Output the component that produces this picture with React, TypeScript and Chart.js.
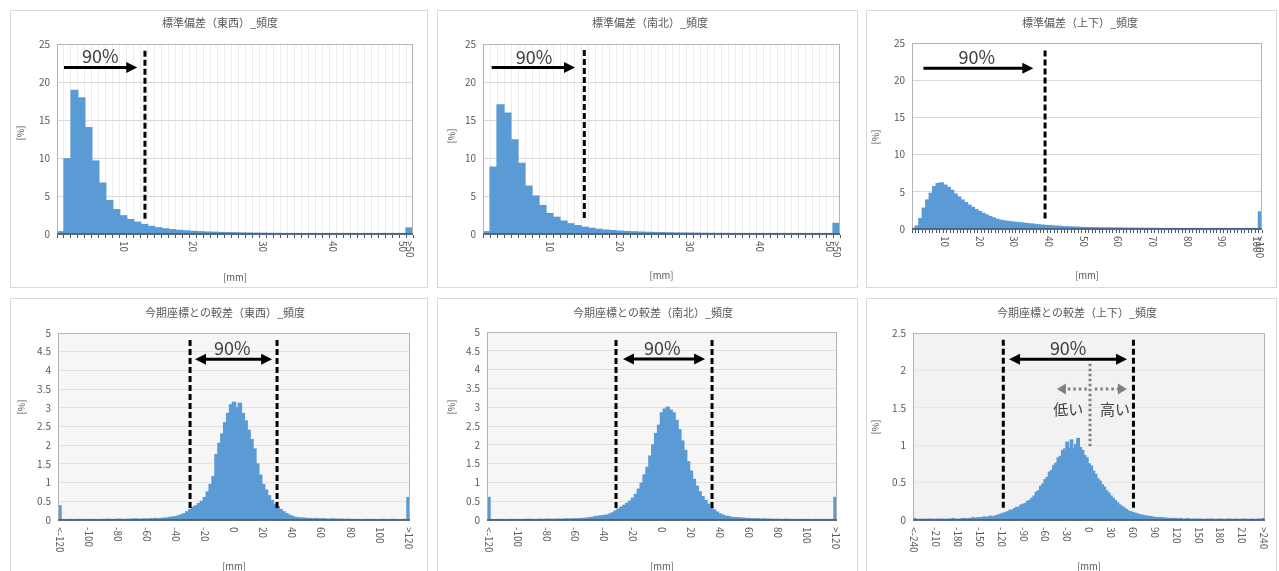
import React, { useEffect, useRef } from 'react';
import { Chart, registerables } from 'chart.js';

Chart.register(...registerables);

// ---------------- data ----------------
// 標準偏差 histograms: bins "1".."N", ">N"
const sdEwValues = [
  0.3, 9.9, 18.9, 17.9, 14.0, 9.6, 6.7, 4.4, 3.2, 2.4,
  1.9, 1.55, 1.25, 1.0, 0.82, 0.68, 0.57, 0.48, 0.41, 0.35,
  0.3, 0.26, 0.23, 0.2, 0.18, 0.16, 0.14, 0.12, 0.11, 0.1,
  0.09, 0.08, 0.07, 0.07, 0.06, 0.06, 0.05, 0.05, 0.04, 0.04,
  0.04, 0.03, 0.03, 0.03, 0.03, 0.02, 0.02, 0.02, 0.02, 0.02,
  0.8,
];
const sdNsValues = [
  0.3, 8.8, 17.0, 15.9, 12.4, 9.3, 6.3, 5.0, 3.75, 2.7,
  2.2, 1.7, 1.35, 1.1, 0.9, 0.75, 0.62, 0.52, 0.45, 0.38,
  0.33, 0.29, 0.25, 0.22, 0.2, 0.18, 0.16, 0.14, 0.13, 0.12,
  0.11, 0.1, 0.09, 0.08, 0.08, 0.07, 0.06, 0.06, 0.05, 0.05,
  0.05, 0.04, 0.04, 0.04, 0.03, 0.03, 0.03, 0.03, 0.02, 0.02,
  1.4,
];
const sdUdValues = [
  0.1, 0.4, 1.4, 2.8, 3.9, 4.8, 5.7, 6.1, 6.2, 5.9,
  5.6, 5.2, 4.7, 4.3, 3.9, 3.55, 3.2, 2.9, 2.6, 2.35,
  2.1, 1.88, 1.66, 1.5, 1.3, 1.18, 1.1, 1.03, 0.97, 0.92,
  0.87, 0.82, 0.77, 0.72, 0.67, 0.62, 0.57, 0.52, 0.48, 0.45,
  0.42, 0.39, 0.36, 0.33, 0.3, 0.28, 0.26, 0.24, 0.22, 0.2,
  0.19, 0.18, 0.17, 0.16, 0.15, 0.14, 0.13, 0.13, 0.12, 0.12,
  0.11, 0.11, 0.1, 0.1, 0.09, 0.09, 0.09, 0.08, 0.08, 0.08,
  0.07, 0.07, 0.07, 0.06, 0.06, 0.06, 0.06, 0.05, 0.05, 0.05,
  0.05, 0.05, 0.04, 0.04, 0.04, 0.04, 0.04, 0.04, 0.03, 0.03,
  0.03, 0.03, 0.03, 0.03, 0.03, 0.03, 0.02, 0.02, 0.02, 0.02,
  2.3,
];
// 今期座標との較差 (東西): "<-120", -118 ... 118, ">120" (2mm bins)
const diffEwValues = [
  0.38,
  0.01, 0.0, 0.01, 0.01, 0.0, 0.01, 0.01, 0.0, 0.01, 0.01,
  0.01, 0.01, 0.0, 0.01, 0.01, 0.01, 0.02, 0.01, 0.01, 0.02,
  0.02, 0.01, 0.02, 0.02, 0.02, 0.03, 0.02, 0.02, 0.03, 0.02,
  0.03, 0.03, 0.04, 0.03, 0.04, 0.05, 0.05, 0.07, 0.08, 0.09,
  0.11, 0.14, 0.17, 0.22, 0.28, 0.34, 0.38, 0.44, 0.5, 0.6,
  0.75, 0.95, 1.16, 1.75, 2.05, 2.3, 2.6, 2.85, 3.08, 3.15,
  3.0, 3.12, 2.85, 2.65, 2.4, 2.15, 1.9, 1.5, 1.2, 0.95,
  0.8, 0.65, 0.52, 0.42, 0.36, 0.28, 0.22, 0.17, 0.13, 0.1,
  0.07, 0.06, 0.05, 0.05, 0.04, 0.04, 0.03, 0.04, 0.03, 0.03,
  0.03, 0.02, 0.02, 0.03, 0.02, 0.02, 0.02, 0.01, 0.02, 0.01,
  0.01, 0.01, 0.01, 0.0, 0.01, 0.01, 0.01, 0.01, 0.0, 0.01,
  0.01, 0.01, 0.0, 0.01, 0.01, 0.01, 0.0, 0.01, 0.01,
  0.6,
];
// 今期座標との較差 (南北)
const diffNsValues = [
  0.6,
  0.01, 0.0, 0.01, 0.01, 0.01, 0.0, 0.01, 0.01, 0.01, 0.01,
  0.01, 0.01, 0.01, 0.02, 0.01, 0.01, 0.01, 0.02, 0.01, 0.02,
  0.02, 0.01, 0.02, 0.02, 0.02, 0.02, 0.03, 0.02, 0.03,
  0.03, 0.03, 0.04, 0.04, 0.05, 0.06, 0.07, 0.09, 0.1, 0.11, 0.12,
  0.13, 0.16, 0.19, 0.24, 0.29, 0.34, 0.39, 0.44, 0.5, 0.58,
  0.68, 0.82, 0.98, 1.2, 1.4, 1.7, 2.0, 2.3, 2.52, 2.85,
  2.95, 3.0, 2.92, 2.85, 2.65, 2.4, 2.1, 1.85, 1.55, 1.3,
  1.08, 0.9, 0.75, 0.62, 0.52, 0.42, 0.34, 0.27, 0.21, 0.16,
  0.13, 0.1, 0.09, 0.07, 0.06, 0.06, 0.05, 0.05, 0.04, 0.04,
  0.03, 0.03, 0.03, 0.02, 0.03, 0.02, 0.02, 0.02, 0.01, 0.02,
  0.01, 0.01, 0.02, 0.01, 0.01, 0.01, 0.0, 0.01, 0.01, 0.01,
  0.01, 0.0, 0.01, 0.01, 0.01, 0.0, 0.01, 0.01, 0.01,
  0.6,
];
// 今期座標との較差 (上下): "<-240", -237 ... 237, ">240" (3mm bins)
const diffUdValues = [
  0.02,
  0.01, 0.0, 0.01, 0.01, 0.0, 0.01, 0.01, 0.01, 0.0, 0.01,
  0.01, 0.01, 0.01, 0.0, 0.01, 0.01, 0.01, 0.02, 0.01, 0.01,
  0.01, 0.02, 0.02, 0.01, 0.02, 0.02, 0.03, 0.02, 0.03, 0.03,
  0.03, 0.04, 0.03, 0.04, 0.05, 0.04, 0.05, 0.06, 0.07, 0.08,
  0.09, 0.1, 0.11, 0.13, 0.13, 0.15, 0.17, 0.17, 0.2, 0.21,
  0.22, 0.25, 0.26, 0.29, 0.32, 0.37, 0.39, 0.45, 0.48, 0.54,
  0.57, 0.64, 0.66, 0.73, 0.76, 0.83, 0.85, 0.93, 0.95, 1.04,
  0.96, 1.07, 0.95, 1.01, 1.09, 0.97, 0.93, 0.86, 0.83, 0.75,
  0.72, 0.65, 0.61, 0.55, 0.52, 0.47, 0.44, 0.39, 0.36, 0.32,
  0.29, 0.26, 0.23, 0.2, 0.18, 0.16, 0.14, 0.12, 0.11, 0.1,
  0.09, 0.08, 0.07, 0.065, 0.06, 0.05, 0.05, 0.045, 0.04, 0.035,
  0.03, 0.03, 0.03, 0.025, 0.025, 0.02, 0.02, 0.02, 0.02, 0.02,
  0.01, 0.02, 0.01, 0.01, 0.02, 0.01, 0.01, 0.01, 0.01, 0.01,
  0.01, 0.01, 0.0, 0.01, 0.01, 0.01, 0.01, 0.0, 0.01, 0.01,
  0.01, 0.0, 0.01, 0.01, 0.01, 0.0, 0.01, 0.01, 0.0, 0.01,
  0.01, 0.01, 0.0, 0.01, 0.01, 0.0, 0.01, 0.01, 0.01,
  0.02,
];

const sdTicks50 = ['10', '20', '30', '40', '50', '>50'];
const sdTicks100 = ['10', '20', '30', '40', '50', '60', '70', '80', '90', '100', '>100'];
const diffTicks120 = ['<-120', '-100', '-80', '-60', '-40', '-20', '0', '20', '40', '60', '80', '100', '>120'];
const diffTicks240 = ['<-240', '-210', '-180', '-150', '-120', '-90', '-60', '-30', '0', '30', '60', '90', '120', '150', '180', '210', '>240'];

function sdCategories(n: number): string[] {
  const c: string[] = [];
  for (let i = 1; i <= n; i++) c.push(String(i));
  c.push('>' + n);
  return c;
}
function diffCategories(limit: number, step: number): string[] {
  const c: string[] = ['<-' + limit];
  for (let v = -limit + step; v < limit; v += step) c.push(String(v));
  c.push('>' + limit);
  return c;
}

// ---------------- config ----------------
type Ann =
  | { t: 'dash'; x: number; y0: number; y1: number }
  | { t: 'arrow'; x0: number; x1: number; y: number; both: boolean }
  | { t: 'text'; x: number; y: number; s: string; size: number }
  | { t: 'dot'; x: number; y0: number; y1: number }
  | { t: 'garrow'; x0: number; x1: number; y: number };

interface PanelCfg {
  title: string;
  x: number; y: number; w: number; h: number;
  area: [number, number, number, number];
  cats: string[]; values: number[]; ticks: string[];
  binStart: number; binWidth: number;
  yMax: number; yStep: number;
  plotBg: string; yGrid: string; xGrid: string | null; xTicks: boolean;
  barPct: number;
  titleX: number; titleY: number; pctX: number; pctY: number; mmDy: number;
  anns: Ann[];
}

const FONT = '"Noto Sans CJK JP", "Noto Sans", sans-serif';
const BAR = '#5b9bd5';
const TXT = '#595959';

const panels: PanelCfg[] = [
  {
    title: '標準偏差（東西）_頻度', x: 10, y: 10, w: 418, h: 278, area: [47, 34, 403, 224],
    cats: sdCategories(50), values: sdEwValues, ticks: sdTicks50, binStart: 1, binWidth: 1,
    yMax: 25, yStep: 5, plotBg: '#ffffff', yGrid: '#d9d9d9', xGrid: '#ededed', xTicks: true, barPct: 1,
    titleX: 210, titleY: 13, pctX: 10, pctY: 123, mmDy: 43,
    anns: [
      { t: 'text', x: 6.7, y: 23.4, s: '90%', size: 18 },
      { t: 'arrow', x0: 1.5, x1: 12.0, y: 21.9, both: false },
      { t: 'dash', x: 13.1, y0: 1.84, y1: 24.1 },
    ],
  },
  {
    title: '標準偏差（南北）_頻度', x: 437, y: 10, w: 421, h: 278, area: [46, 34, 403, 224],
    cats: sdCategories(50), values: sdNsValues, ticks: sdTicks50, binStart: 1, binWidth: 1,
    yMax: 25, yStep: 5, plotBg: '#ffffff', yGrid: '#d9d9d9', xGrid: '#ededed', xTicks: true, barPct: 1,
    titleX: 213, titleY: 13, pctX: 14, pctY: 126, mmDy: 41,
    anns: [
      { t: 'text', x: 7.8, y: 23.3, s: '90%', size: 18 },
      { t: 'arrow', x0: 1.74, x1: 13.64, y: 21.9, both: false },
      { t: 'dash', x: 14.97, y0: 1.93, y1: 24.2 },
    ],
  },
  {
    title: '標準偏差（上下）_頻度', x: 866, y: 10, w: 411, h: 278, area: [46, 33, 396, 219],
    cats: sdCategories(100), values: sdUdValues, ticks: sdTicks100, binStart: 1, binWidth: 1,
    yMax: 25, yStep: 5, plotBg: '#ffffff', yGrid: '#d9d9d9', xGrid: null, xTicks: true, barPct: 1.1,
    titleX: 214, titleY: 13, pctX: 9, pctY: 127, mmDy: 46,
    anns: [
      { t: 'text', x: 19.2, y: 23.1, s: '90%', size: 18 },
      { t: 'arrow', x0: 3.8, x1: 35.5, y: 21.6, both: false },
      { t: 'dash', x: 38.9, y0: 1.27, y1: 24.0 },
    ],
  },
  {
    title: '今期座標との較差（東西）_頻度', x: 10, y: 298, w: 418, h: 280, area: [48, 35, 400, 222],
    cats: diffCategories(120, 2), values: diffEwValues, ticks: diffTicks120, binStart: -120, binWidth: 2,
    yMax: 5, yStep: 0.5, plotBg: '#f6f6f6', yGrid: '#e2e2e2', xGrid: null, xTicks: false, barPct: 1.15,
    titleX: 215, titleY: 15, pctX: 11, pctY: 109, mmDy: 46,
    anns: [
      { t: 'text', x: -1.2, y: 4.59, s: '90%', size: 18 },
      { t: 'arrow', x0: -26.8, x1: 26.2, y: 4.3, both: true },
      { t: 'dash', x: -30.2, y0: 0.31, y1: 4.81 },
      { t: 'dash', x: 29.6, y0: 0.31, y1: 4.81 },
    ],
  },
  {
    title: '今期座標との較差（南北）_頻度', x: 437, y: 298, w: 421, h: 280, area: [50, 34, 400, 222],
    cats: diffCategories(120, 2), values: diffNsValues, ticks: diffTicks120, binStart: -120, binWidth: 2,
    yMax: 5, yStep: 0.5, plotBg: '#f6f6f6', yGrid: '#e2e2e2', xGrid: null, xTicks: false, barPct: 1.15,
    titleX: 216, titleY: 15, pctX: 14, pctY: 109, mmDy: 46,
    anns: [
      { t: 'text', x: 0.2, y: 4.57, s: '90%', size: 18 },
      { t: 'arrow', x0: -27, x1: 29.8, y: 4.28, both: true },
      { t: 'dash', x: -31.8, y0: 0.32, y1: 4.79 },
      { t: 'dash', x: 34.6, y0: 0.32, y1: 4.79 },
    ],
  },
  {
    title: '今期座標との較差（上下）_頻度', x: 866, y: 298, w: 411, h: 280, area: [47, 35, 399, 222],
    cats: diffCategories(240, 3), values: diffUdValues, ticks: diffTicks240, binStart: -240, binWidth: 3,
    yMax: 2.5, yStep: 0.5, plotBg: '#f2f2f2', yGrid: '#e6e6e6', xGrid: null, xTicks: false, barPct: 1.2,
    titleX: 211, titleY: 15, pctX: 9, pctY: 129, mmDy: 46,
    anns: [
      { t: 'text', x: -28.6, y: 2.3, s: '90%', size: 18 },
      { t: 'arrow', x0: -109.8, x1: 52.2, y: 2.15, both: true },
      { t: 'dash', x: -117.6, y0: 0.16, y1: 2.41 },
      { t: 'dash', x: 61, y0: 0.16, y1: 2.41 },
      { t: 'dot', x: 1.4, y0: 0.98, y1: 2.09 },
      { t: 'garrow', x0: -3, x1: -44, y: 1.75 },
      { t: 'garrow', x0: 8, x1: 52, y: 1.75 },
      { t: 'text', x: -28.6, y: 1.48, s: '低い', size: 15 },
      { t: 'text', x: 35.7, y: 1.48, s: '高い', size: 15 },
    ],
  },
];

// ---------------- drawing helpers ----------------
function head(ctx: CanvasRenderingContext2D, tip: number, y: number, dir: number, len: number, half: number) {
  ctx.beginPath();
  ctx.moveTo(tip, y);
  ctx.lineTo(tip - dir * len, y - half);
  ctx.lineTo(tip - dir * len, y + half);
  ctx.closePath();
  ctx.fill();
}

function makePlugin(cfg: PanelCfg) {
  return {
    id: 'panelDecor',
    beforeDraw(chart: any) {
      const ctx: CanvasRenderingContext2D = chart.ctx;
      const a = chart.chartArea;
      ctx.save();
      ctx.fillStyle = '#ffffff';
      ctx.fillRect(0, 0, chart.width, chart.height);
      ctx.strokeStyle = '#d9d9d9';
      ctx.lineWidth = 1;
      ctx.strokeRect(0.5, 0.5, chart.width - 1, chart.height - 1);
      ctx.fillStyle = cfg.plotBg;
      ctx.fillRect(a.left, a.top, a.right - a.left, a.bottom - a.top);
      ctx.restore();
    },
    afterDatasetsDraw(chart: any) {
      const ctx: CanvasRenderingContext2D = chart.ctx;
      const a = chart.chartArea;
      const xs = chart.scales.x;
      const ys = chart.scales.y;
      const X = (mm: number) => xs.getPixelForValue((mm - cfg.binStart) / cfg.binWidth);
      const Y = (v: number) => ys.getPixelForValue(v);
      ctx.save();
      // clean the edges of the plot (overlapping bars)
      ctx.fillStyle = '#ffffff';
      ctx.fillRect(a.left - 4, a.top, 4, a.bottom - a.top + 1);
      ctx.fillRect(a.right, a.top, 4, a.bottom - a.top + 1);
      // plot frame
      ctx.strokeStyle = '#b4b4b4';
      ctx.lineWidth = 1;
      ctx.strokeRect(Math.round(a.left) + 0.5, Math.round(a.top) + 0.5, Math.round(a.right - a.left) - 1, Math.round(a.bottom - a.top));
      // x axis line
      ctx.strokeStyle = '#44546a';
      ctx.lineWidth = 1.5;
      ctx.beginPath();
      ctx.moveTo(a.left, a.bottom);
      ctx.lineTo(a.right, a.bottom);
      ctx.stroke();

      for (const an of cfg.anns) {
        ctx.setLineDash([]);
        if (an.t === 'dash') {
          ctx.strokeStyle = '#000';
          ctx.lineWidth = 3;
          ctx.setLineDash([6, 3]);
          ctx.beginPath();
          ctx.moveTo(X(an.x), Y(an.y1));
          ctx.lineTo(X(an.x), Y(an.y0));
          ctx.stroke();
        } else if (an.t === 'arrow') {
          const x0 = X(an.x0), x1 = X(an.x1), y = Y(an.y);
          const len = 11, half = 5.5;
          ctx.strokeStyle = '#000';
          ctx.fillStyle = '#000';
          ctx.lineWidth = 3;
          ctx.beginPath();
          ctx.moveTo(an.both ? x0 + len - 2 : x0, y);
          ctx.lineTo(x1 - len + 2, y);
          ctx.stroke();
          head(ctx, x1, y, 1, len, half);
          if (an.both) head(ctx, x0, y, -1, len, half);
        } else if (an.t === 'text') {
          ctx.fillStyle = '#404040';
          ctx.font = `${an.size}px ${FONT}`;
          ctx.textAlign = 'center';
          ctx.textBaseline = 'middle';
          ctx.fillText(an.s, X(an.x), Y(an.y));
        } else if (an.t === 'dot') {
          ctx.strokeStyle = '#808080';
          ctx.lineWidth = 3;
          ctx.setLineDash([2.5, 2.5]);
          ctx.beginPath();
          ctx.moveTo(X(an.x), Y(an.y1));
          ctx.lineTo(X(an.x), Y(an.y0));
          ctx.stroke();
        } else if (an.t === 'garrow') {
          const x0 = X(an.x0), x1 = X(an.x1), y = Y(an.y);
          const dir = x1 > x0 ? 1 : -1;
          const len = 9, half = 5.5;
          ctx.strokeStyle = '#808080';
          ctx.fillStyle = '#808080';
          ctx.lineWidth = 3;
          ctx.setLineDash([2.5, 3]);
          ctx.beginPath();
          ctx.moveTo(x0, y);
          ctx.lineTo(x1 - dir * (len - 1), y);
          ctx.stroke();
          ctx.setLineDash([]);
          head(ctx, x1, y, dir, len, half);
        }
      }
      ctx.restore();
    },
    afterDraw(chart: any) {
      const ctx: CanvasRenderingContext2D = chart.ctx;
      const a = chart.chartArea;
      const xs = chart.scales.x;
      ctx.save();
      // title
      ctx.fillStyle = TXT;
      ctx.font = `11px ${FONT}`;
      ctx.textAlign = 'center';
      ctx.textBaseline = 'middle';
      ctx.fillText(cfg.title, cfg.titleX, cfg.titleY);
      // x tick labels (rotated, reading downward)
      ctx.font = `10px ${FONT}`;
      for (const lab of cfg.ticks) {
        const idx = cfg.cats.indexOf(lab);
        if (idx < 0) continue;
        const x = xs.getPixelForValue(idx);
        ctx.save();
        ctx.translate(x, a.bottom + 7);
        ctx.rotate(Math.PI / 2);
        ctx.textAlign = 'left';
        ctx.textBaseline = 'middle';
        ctx.fillText(lab, 0, 0);
        ctx.restore();
      }
      // axis titles
      ctx.font = `9.5px ${FONT}`;
      ctx.textAlign = 'center';
      ctx.textBaseline = 'middle';
      ctx.fillText('[mm]', (a.left + a.right) / 2, a.bottom + cfg.mmDy);
      ctx.save();
      ctx.translate(cfg.pctX, cfg.pctY);
      ctx.rotate(-Math.PI / 2);
      ctx.fillText('[%]', 0, 0);
      ctx.restore();
      ctx.restore();
    },
  };
}

function Panel({ cfg }: { cfg: PanelCfg }) {
  const ref = useRef<HTMLCanvasElement>(null);
  useEffect(() => {
    const [l, t, r, b] = cfg.area;
    const yW = 30;
    const xH = 4;
    const chart = new Chart(ref.current as HTMLCanvasElement, {
      type: 'bar',
      data: {
        labels: cfg.cats,
        datasets: [
          {
            data: cfg.values,
            backgroundColor: BAR,
            borderWidth: 0,
            barPercentage: cfg.barPct,
            categoryPercentage: 1,
            inflateAmount: 0.6,
          },
        ],
      },
      options: {
        responsive: false,
        animation: false,
        devicePixelRatio: 1,
        events: [],
        layout: { padding: { left: l - yW, top: t, right: cfg.w - r, bottom: cfg.h - b - xH } },
        plugins: { legend: { display: false }, title: { display: false }, tooltip: { enabled: false } },
        scales: {
          x: {
            type: 'category',
            offset: true,
            ticks: { display: false },
            grid: {
              display: cfg.xGrid !== null || cfg.xTicks,
              drawOnChartArea: cfg.xGrid !== null,
              color: cfg.xGrid ?? 'rgba(0,0,0,0)',
              drawTicks: cfg.xTicks,
              tickLength: 4,
              tickColor: '#44546a',
              offset: true,
            },
            border: { display: false },
            afterFit: (s: any) => { s.height = xH; },
          },
          y: {
            min: 0,
            max: cfg.yMax,
            ticks: {
              stepSize: cfg.yStep,
              color: TXT,
              font: { size: 10, family: FONT },
              padding: 7,
              callback: (v: any) => String(Math.round(Number(v) * 100) / 100),
            },
            grid: { color: cfg.yGrid, drawTicks: false },
            border: { display: false },
            afterFit: (s: any) => { s.width = yW; },
          },
        },
      } as any,
      plugins: [makePlugin(cfg) as any],
    });
    return () => chart.destroy();
  }, [cfg]);
  return (
    <canvas
      ref={ref}
      width={cfg.w}
      height={cfg.h}
      style={{ position: 'absolute', left: cfg.x, top: cfg.y, width: cfg.w, height: cfg.h }}
    />
  );
}

export default function App() {
  return (
    <div style={{ position: 'fixed', left: 0, top: 0, width: 1279, height: 571, overflow: 'hidden', background: '#ffffff' }}>
      {panels.map((p, i) => (
        <Panel key={i} cfg={p} />
      ))}
    </div>
  );
}
